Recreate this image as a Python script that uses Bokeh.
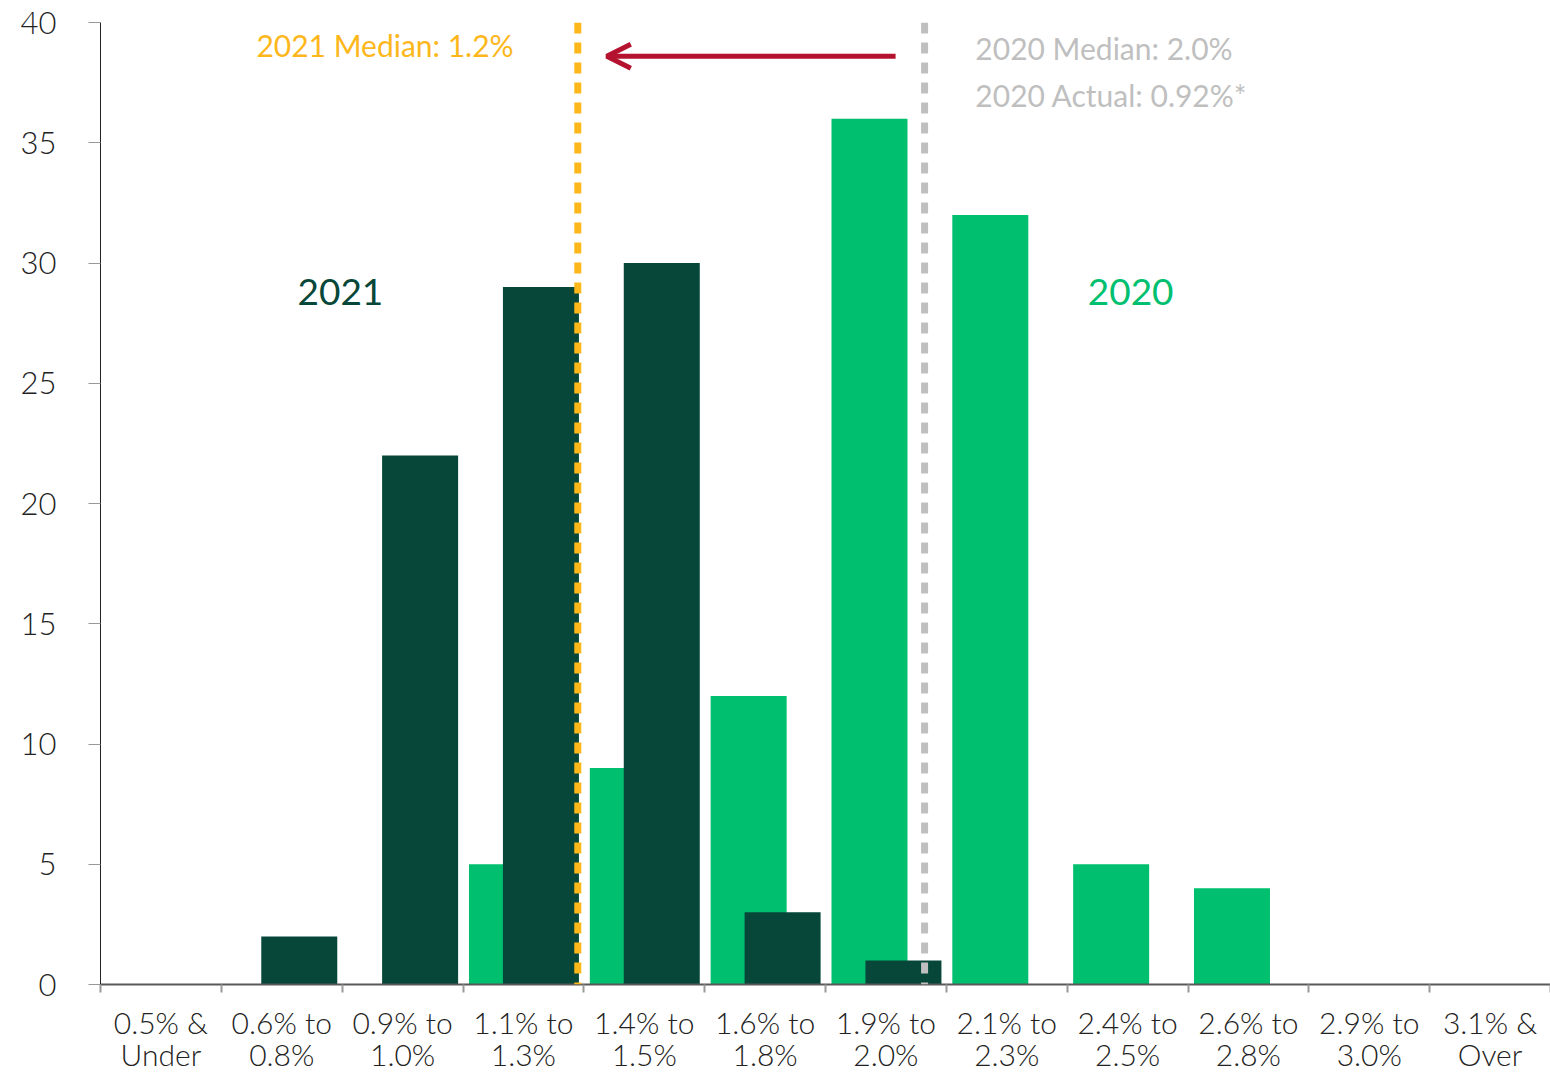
import numpy as np
from bokeh.plotting import figure
from bokeh.models import (Range1d, FixedTicker, Span, Arrow, OpenHead, ColumnDataSource,
                          Label)
from bokeh.embed import file_html
from bokeh.resources import INLINE

categories = ["0.5% &\nUnder", "0.6% to\n0.8%", "0.9% to\n1.0%", "1.1% to\n1.3%",
              "1.4% to\n1.5%", "1.6% to\n1.8%", "1.9% to\n2.0%", "2.1% to\n2.3%",
              "2.4% to\n2.5%", "2.6% to\n2.8%", "2.9% to\n3.0%", "3.1% &\nOver"]
values_2020 = [0, 0, 0, 5, 9, 12, 36, 32, 5, 4, 0, 0]
values_2021 = [0, 2, 22, 29, 30, 3, 1, 0, 0, 0, 0, 0]
y_ticks = [0, 5, 10, 15, 20, 25, 30, 35, 40]

median_2021_x = 3.95
median_2020_x = 6.82
arrow_start_x = 6.58
arrow_end_x = 4.19
arrow_y = 38.6

FONT = "Lato Light"
FONT_ANN = "Lato"
C2020 = "#00BF6F"
C2021 = "#06473A"
ORANGE = "#FDB71A"
GRAY = "#BFBFBF"
RED = "#B5122F"

n = len(categories)
centers = np.arange(n) + 0.5

p = figure(width=1550, height=1074, output_backend="svg", toolbar_location=None,
           x_range=Range1d(0, n), y_range=Range1d(0, 40),
           min_border_left=100, min_border_right=0, min_border_top=22, min_border_bottom=89)
p.outline_line_color = None
p.grid.visible = False
p.background_fill_color = "white"

src = ColumnDataSource(dict(x20=centers - 0.136, x21=centers + 0.145,
                            v20=values_2020, v21=values_2021))
p.vbar(x="x20", top="v20", bottom=0, width=0.629, source=src, fill_color=C2020, line_color=None)
p.vbar(x="x21", top="v21", bottom=0, width=0.629, source=src, fill_color=C2021, line_color=None)

# median lines
p.add_layout(Span(location=median_2021_x, dimension="height", line_color=ORANGE,
                  line_width=7, line_dash="11 9"))
p.add_layout(Span(location=median_2020_x, dimension="height", line_color=GRAY,
                  line_width=7, line_dash="11 9"))

p.add_layout(Arrow(end=OpenHead(line_color=RED, line_width=5, size=24),
                   x_start=arrow_start_x, y_start=arrow_y, x_end=arrow_end_x, y_end=arrow_y,
                   line_color=RED, line_width=5))

def lab(x, y, text, color, size):
    p.add_layout(Label(x=x, y=y, text=text, text_color=color, text_font=FONT_ANN,
                       text_font_size=size, text_baseline="middle", text_align="left"))

lab(1.29, 39.05, "2021 Median: 1.2%", ORANGE, "30px")
lab(7.24, 38.93, "2020 Median: 2.0%", GRAY, "30px")
lab(7.24, 36.98, "2020 Actual: 0.92%*", GRAY, "30px")
lab(1.63, 28.8, "2021", C2021, "37px")
lab(8.17, 28.8, "2020", C2020, "37px")

# y axis
ya = p.yaxis[0]
ya.ticker = FixedTicker(ticks=y_ticks)
ya.axis_line_color = "#222222"
ya.axis_line_width = 1
ya.major_tick_line_color = "#999999"
ya.major_tick_in = 0
ya.major_tick_out = 12
ya.minor_tick_line_color = None
ya.major_label_standoff = 32
ya.major_label_text_font = FONT
ya.major_label_text_font_size = "31px"
ya.major_label_text_color = "#222222"

# x axis
xa = p.xaxis[0]
xa.ticker = FixedTicker(ticks=list(centers), minor_ticks=list(np.arange(n + 1)))
xa.major_label_overrides = {float(c): lab_ for c, lab_ in zip(centers, categories)}
xa.axis_line_color = "#595959"
xa.axis_line_width = 2
xa.major_tick_line_color = None
xa.major_tick_in = 0
xa.major_tick_out = 8
xa.minor_tick_line_color = "#999999"
xa.minor_tick_line_width = 2
xa.minor_tick_in = 0
xa.minor_tick_out = 8
xa.major_label_standoff = 11
xa.major_label_text_font = FONT
xa.major_label_text_font_size = "30px"
xa.major_label_text_color = "#222222"
xa.major_label_text_line_height = 0.9

open("out.html", "w").write(file_html(p, INLINE))
